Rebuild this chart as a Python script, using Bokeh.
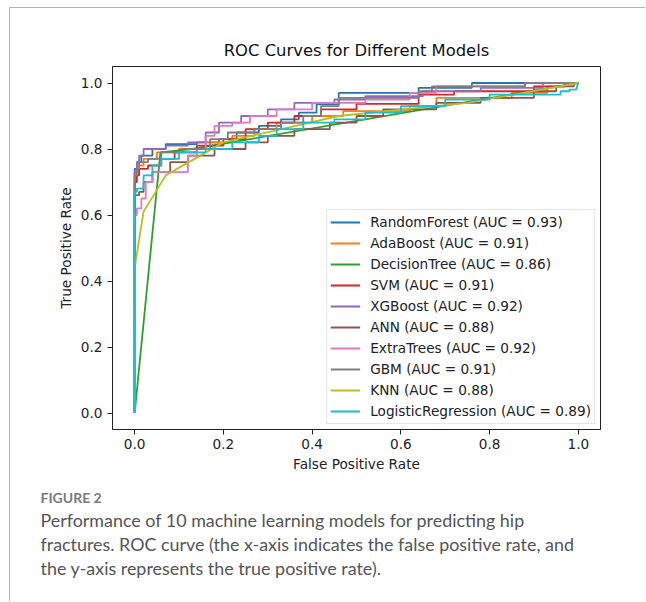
from bokeh.plotting import figure
from bokeh.models import Legend, LegendItem, FixedTicker, Range1d, Title
from bokeh.embed import file_html
from bokeh.resources import INLINE

# ---------------- data (ROC vertices) ----------------
models = ["RandomForest", "AdaBoost", "DecisionTree", "SVM", "XGBoost",
          "ANN", "ExtraTrees", "GBM", "KNN", "LogisticRegression"]
aucs = [0.93, 0.91, 0.86, 0.91, 0.92, 0.88, 0.92, 0.91, 0.88, 0.89]
colors = ["#1f77b4", "#ff7f0e", "#2ca02c", "#d62728", "#9467bd",
          "#8c564b", "#e377c2", "#7f7f7f", "#bcbd22", "#17becf"]

roc_rf = [(0,0),(0,0.74),(0.005,0.74),(0.005,0.76),(0.015,0.76),(0.015,0.78),(0.04,0.78),(0.04,0.80),
          (0.07,0.80),(0.07,0.815),(0.14,0.815),(0.14,0.82),(0.19,0.82),(0.19,0.83),(0.23,0.83),(0.23,0.85),
          (0.28,0.85),(0.28,0.87),(0.33,0.87),(0.33,0.89),(0.37,0.89),(0.37,0.91),(0.41,0.91),(0.41,0.935),
          (0.46,0.935),(0.46,0.97),(0.64,0.97),(0.64,0.985),(0.76,0.985),(0.76,1.0),(1,1)]
roc_ada = [(0,0),(0,0.73),(0.01,0.73),(0.01,0.75),(0.02,0.75),(0.02,0.77),(0.05,0.77),(0.05,0.79),
           (0.1,0.79),(0.1,0.80),(0.16,0.80),(0.16,0.82),(0.22,0.82),(0.22,0.84),(0.27,0.84),(0.27,0.86),
           (0.32,0.86),(0.32,0.88),(0.4,0.88),(0.4,0.90),(0.47,0.90),(0.47,0.915),(0.62,0.915),(0.62,0.93),
           (0.68,0.93),(0.68,0.955),(0.85,0.955),(0.85,0.97),(0.93,0.97),(0.93,0.99),(0.97,0.99),(0.97,1.0),(1,1)]
roc_dt = [(0,0),(0.058,0.79),(0.13,0.80),(0.26,0.83),(1,1)]
roc_svm = [(0,0),(0,0.70),(0.005,0.70),(0.005,0.72),(0.01,0.72),(0.01,0.74),(0.03,0.74),(0.03,0.75),
           (0.06,0.75),(0.06,0.77),(0.09,0.77),(0.09,0.79),(0.14,0.79),(0.14,0.81),(0.2,0.81),(0.2,0.83),
           (0.25,0.83),(0.25,0.86),(0.3,0.86),(0.3,0.88),(0.36,0.88),(0.36,0.90),(0.42,0.90),(0.42,0.92),
           (0.5,0.92),(0.5,0.937),(0.64,0.937),(0.64,0.965),(0.72,0.965),(0.72,0.975),(0.9,0.975),(0.9,0.99),
           (0.97,0.99),(0.97,1.0),(1,1)]
roc_xgb = [(0,0),(0,0.73),(0.005,0.73),(0.005,0.76),(0.01,0.76),(0.01,0.78),(0.02,0.78),(0.02,0.80),
           (0.07,0.80),(0.07,0.81),(0.12,0.81),(0.12,0.82),(0.16,0.82),(0.16,0.85),(0.19,0.85),(0.19,0.88),
           (0.24,0.88),(0.24,0.90),(0.3,0.90),(0.3,0.92),(0.36,0.92),(0.36,0.94),(0.45,0.94),(0.45,0.95),
           (0.52,0.95),(0.52,0.96),(0.65,0.96),(0.65,0.975),(0.78,0.975),(0.78,0.985),(0.92,0.985),(0.92,1.0),(1,1)]
roc_ann = [(0,0),(0,0.66),(0.01,0.66),(0.01,0.67),(0.02,0.67),(0.02,0.70),(0.04,0.70),(0.04,0.73),
           (0.08,0.73),(0.08,0.76),(0.12,0.76),(0.12,0.78),(0.18,0.78),(0.18,0.80),(0.25,0.80),(0.25,0.82),
           (0.3,0.82),(0.3,0.84),(0.36,0.84),(0.36,0.86),(0.44,0.86),(0.44,0.88),(0.5,0.88),(0.5,0.90),
           (0.56,0.90),(0.56,0.92),(0.68,0.92),(0.68,0.94),(0.78,0.94),(0.78,0.955),(0.9,0.955),(0.9,0.975),
           (0.95,0.975),(0.95,0.99),(0.99,0.99),(0.99,1.0),(1,1)]
roc_et = [(0,0),(0,0.60),(0.005,0.60),(0.005,0.62),(0.015,0.62),(0.015,0.65),(0.025,0.65),(0.025,0.70),
          (0.04,0.70),(0.04,0.73),(0.12,0.73),(0.12,0.78),(0.14,0.78),(0.14,0.80),(0.16,0.80),(0.16,0.84),
          (0.18,0.84),(0.18,0.87),(0.22,0.87),(0.22,0.88),(0.26,0.88),(0.26,0.90),(0.32,0.90),(0.32,0.92),
          (0.4,0.92),(0.4,0.94),(0.52,0.94),(0.52,0.95),(0.62,0.95),(0.62,0.97),(0.68,0.97),(0.68,0.99),
          (0.88,0.99),(0.88,1.0),(1,1)]
roc_gbm = [(0,0),(0,0.72),(0.005,0.72),(0.005,0.74),(0.01,0.74),(0.01,0.76),(0.03,0.76),(0.03,0.77),
           (0.06,0.77),(0.06,0.79),(0.11,0.79),(0.11,0.80),(0.17,0.80),(0.17,0.83),(0.21,0.83),(0.21,0.85),
           (0.27,0.85),(0.27,0.86),(0.33,0.86),(0.33,0.88),(0.38,0.88),(0.38,0.90),(0.42,0.90),(0.42,0.93),
           (0.46,0.93),(0.46,0.955),(0.64,0.955),(0.64,0.975),(0.67,0.975),(0.67,0.99),(0.88,0.99),(0.88,1.0),(1,1)]
roc_knn = [(0,0),(0,0.44),(0.02,0.61),(0.07,0.72),(0.2,0.82),(0.46,0.90),(0.75,0.94),(1,1)]
roc_lr = [(0,0),(0,0.67),(0.005,0.67),(0.005,0.68),(0.02,0.68),(0.02,0.72),(0.04,0.72),(0.04,0.75),
          (0.06,0.75),(0.06,0.77),(0.1,0.77),(0.1,0.79),(0.16,0.79),(0.16,0.80),(0.22,0.80),(0.22,0.82),
          (0.28,0.82),(0.28,0.84),(0.32,0.84),(0.32,0.86),(0.38,0.86),(0.38,0.88),(0.45,0.88),(0.45,0.89),
          (0.52,0.89),(0.52,0.91),(0.6,0.91),(0.6,0.93),(0.7,0.93),(0.7,0.95),(0.8,0.95),(0.8,0.965),
          (0.96,0.965),(0.96,0.975),(0.98,0.975),(0.98,0.98),(0.995,0.98),(1,1)]
curves = [roc_rf, roc_ada, roc_dt, roc_svm, roc_xgb, roc_ann, roc_et, roc_gbm, roc_knn, roc_lr]

tick_values = [0.0, 0.2, 0.4, 0.6, 0.8, 1.0]
title_text = "ROC Curves for Different Models"
x_label = "False Positive Rate"
y_label = "True Positive Rate"
fig_label = "FIGURE 2"
caption_lines = [
    "Performance of 10 machine learning models for predicting hip",
    "fractures. ROC curve (the x-axis indicates the false positive rate, and",
    "the y-axis represents the true positive rate).",
]

# ---------------- layout geometry (page pixels) ----------------
PAGE_W, PAGE_H = 646, 602
OX, OY = 10, 8                      # canvas origin inside the bordered panel
W, H = PAGE_W - OX, PAGE_H - OY
FL, FR, FT, FB = 112 - OX, 600 - OX, 66 - OY, 429 - OY
FS = "13.65px"                      # matplotlib 10pt at this scale

p = figure(width=W, height=H, output_backend="svg", toolbar_location=None,
           x_range=Range1d(-0.05, 1.05), y_range=Range1d(-0.05, 1.05),
           min_border_left=FL, min_border_right=W - FR,
           min_border_top=FT, min_border_bottom=H - FB)
p.margin = (OY - 1, 0, 0, OX - 1)
p.styles = {"border-left": "1px solid #b5b5b5", "border-top": "1px solid #b5b5b5"}
p.background_fill_color = "white"
p.border_fill_color = "white"
p.outline_line_color = "#222222"
p.outline_line_width = 1
p.grid.visible = False

p.title.text = title_text
p.title.align = "center"
p.title.text_font = "DejaVu Sans"
p.title.text_font_size = "16.4px"
p.title.text_font_style = "normal"
p.title.text_color = "#111111"
p.title.standoff = 13

for ax in (p.xaxis[0], p.yaxis[0]):
    ax.ticker = FixedTicker(ticks=tick_values)
    ax.major_label_overrides = {v: f"{v:.1f}" for v in tick_values}
    ax.axis_line_color = "#222222"
    ax.major_tick_line_color = "#222222"
    ax.major_tick_out = 5
    ax.major_tick_in = 0
    ax.minor_tick_line_color = None
    ax.major_label_text_font = "DejaVu Sans"
    ax.major_label_text_font_size = FS
    ax.major_label_text_color = "#222222"
    ax.axis_label_text_font = "DejaVu Sans"
    ax.axis_label_text_font_size = FS
    ax.axis_label_text_font_style = "normal"
    ax.axis_label_text_color = "#222222"
p.xaxis.axis_label = x_label
p.yaxis.axis_label = y_label
p.xaxis.major_label_standoff = 4
p.yaxis.major_label_standoff = 5
p.xaxis.axis_label_standoff = 4
p.yaxis.axis_label_standoff = 4

items = []
for name, auc, col, roc in zip(models, aucs, colors, curves):
    xs = [a for a, b in roc]
    ys = [b for a, b in roc]
    r = p.line(xs, ys, line_color=col, line_width=1.8)
    items.append(LegendItem(label=f"{name} (AUC = {auc:.2f})", renderers=[r]))

legend = Legend(items=items, location="bottom_right", margin=5, padding=3, spacing=3,
                glyph_height=18, label_height=18, glyph_width=30, label_standoff=10,
                label_text_font="DejaVu Sans", label_text_font_size=FS,
                label_text_color="#222222",
                border_line_color="#cccccc", border_line_width=1,
                background_fill_color="white", background_fill_alpha=1)
p.add_layout(legend)

# caption below the chart (a thin blank spacer first, then the caption rows)
cap_offset = 40 - 112
p.add_layout(Title(text=" ", align="left", offset=cap_offset, standoff=7,
                   text_font="Lato", text_font_size="2px"), "below")
p.add_layout(Title(text=fig_label, align="left", offset=cap_offset, standoff=2,
                   text_font="Lato", text_font_size="14px", text_font_style="bold",
                   text_color="#7a7a7a"), "below")
for line in caption_lines:
    p.add_layout(Title(text=line, align="left", offset=cap_offset, standoff=0,
                       text_font="Lato", text_font_size="17.9px", text_font_style="normal",
                       text_color="#555555"), "below")

open("out.html", "w").write(file_html(p, INLINE))
